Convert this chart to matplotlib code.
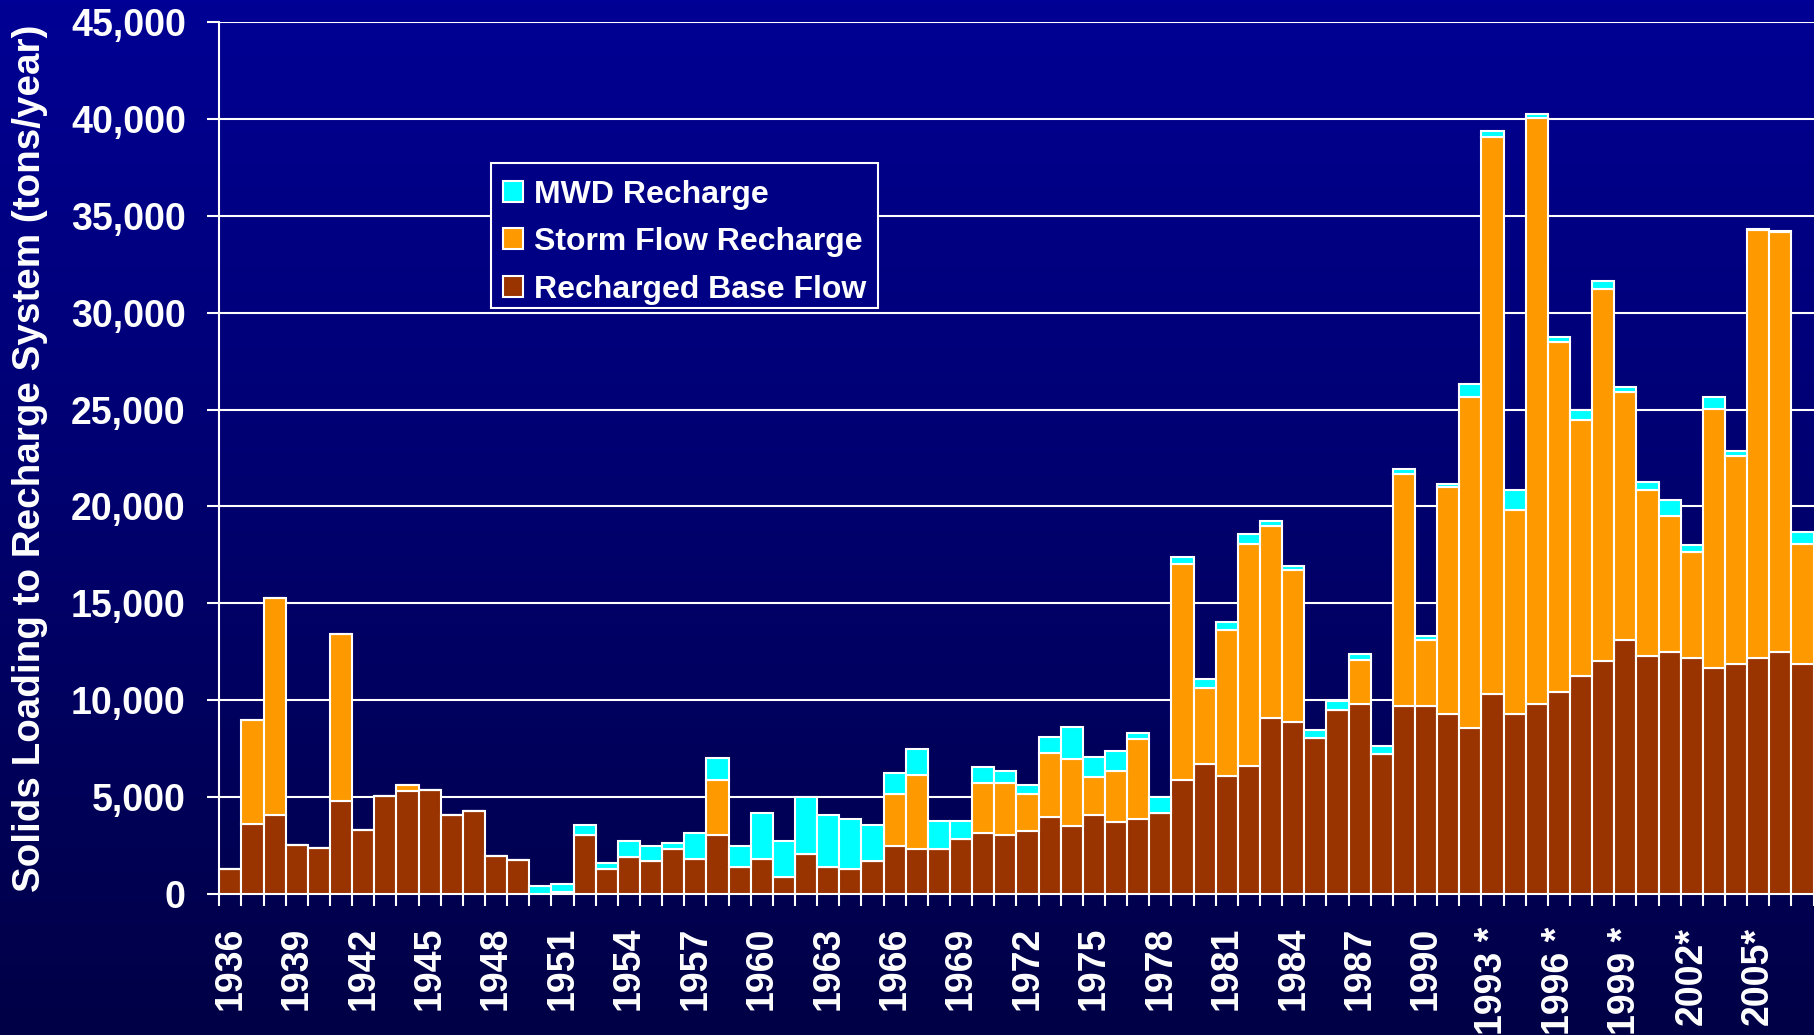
import numpy as np
import matplotlib
matplotlib.use("Agg")
import matplotlib.pyplot as plt
from matplotlib.ticker import FuncFormatter
from matplotlib.patches import Patch, Rectangle

plt.rcParams['font.family'] = ['Liberation Sans', 'DejaVu Sans']

# ---------------- data ----------------
years = list(range(1936, 2008))

base_flow = [1300, 3600, 4100, 2550, 2350, 4800, 3300, 5050, 5330, 5350,
             4100, 4300, 1950, 1750, 0, 120, 3050, 1290, 1890, 1700,
             2300, 1800, 3060, 1410, 1800, 860, 2050, 1410, 1290, 1720,
             2460, 2320, 2320, 2840, 3165, 3060, 3270, 3990, 3490, 4090,
             3700, 3890, 4180, 5870, 6690, 6080, 6600, 9080, 8870, 8030,
             9480, 9810, 7230, 9690, 9690, 9290, 8555, 10340, 9290, 9810,
             10440, 11260, 12000, 13100, 12270, 12480, 12170, 11660, 11870, 12170,
             12470, 11870]

storm_flow = [0, 5400, 11200, 0, 0, 8600, 0, 0, 310, 0,
              0, 0, 0, 0, 0, 0, 0, 0, 0, 0,
              0, 0, 2800, 0, 0, 0, 0, 0, 0, 0,
              2680, 3820, 0, 0, 2580, 2680, 1875, 3300, 3490, 1960,
              2665, 4130, 0, 11170, 3960, 7540, 11470, 9920, 7860, 0,
              0, 2270, 0, 12000, 3440, 11700, 17080, 28710, 10530, 30250,
              18050, 13220, 19220, 12830, 8590, 7040, 5470, 13390, 10720, 22110,
              21670, 6200]

mwd = [0, 0, 0, 0, 0, 0, 0, 0, 0, 0,
       0, 0, 0, 0, 430, 400, 520, 330, 860, 760,
       350, 1360, 1140, 1050, 2390, 1880, 2970, 2680, 2600, 1860,
       1120, 1360, 1460, 950, 825, 620, 480, 825, 1650, 1015,
       1030, 310, 810, 370, 470, 400, 500, 230, 210, 440,
       470, 320, 400, 230, 210, 190, 700, 340, 1050, 200,
       240, 490, 410, 230, 400, 820, 350, 580, 250, 60,
       100, 610]

label_years = list(range(1936, 2006, 3))
tick_labels = ['1936', '1939', '1942', '1945', '1948', '1951', '1954', '1957',
               '1960', '1963', '1966', '1969', '1972', '1975', '1978', '1981',
               '1984', '1987', '1990', '1993 *', '1996 *', '1999 *', '2002*', '2005*']

series_names = ['MWD Recharge', 'Storm Flow Recharge', 'Recharged Base Flow']
ylabel = 'Solids Loading to Recharge System (tons/year)'

c_base = '#993300'
c_storm = '#FF9900'
c_mwd = '#00FFFF'

# ---------------- figure ----------------
W, H = 1814, 1035
fig = plt.figure(figsize=(W / 100, H / 100), dpi=100)

# gradient background
bg = fig.add_axes([0, 0, 1, 1], zorder=-10)
t = np.linspace(0, 1, 256)[:, None, None]
top = np.array([0, 0, 148]) / 255
bot = np.array([0, 0, 70]) / 255
img = top + (bot - top) * t
bg.imshow(img, aspect='auto', extent=[0, 1, 0, 1])
bg.axis('off')

ax_l, ax_r, ax_t, ax_b = 219.3, 1813.5, 22, 894
ax = fig.add_axes([ax_l / W, 1 - ax_b / H, (ax_r - ax_l) / W, (ax_b - ax_t) / H])
ax.patch.set_alpha(0)

x = np.arange(len(years))
b = np.array(base_flow, float)
s = np.array(storm_flow, float)
m = np.array(mwd, float)

kw = dict(width=1.0, edgecolor='white', linewidth=1.5, zorder=3)
ax.bar(x, b, color=c_base, **kw)
ax.bar(x, s, bottom=b, color=c_storm, **kw)
ax.bar(x, m, bottom=b + s, color=c_mwd, **kw)

ax.set_xlim(-0.5, len(years) - 0.5)
ax.set_ylim(0, 45000)

ax.set_yticks(np.arange(0, 45001, 5000))
ax.yaxis.set_major_formatter(FuncFormatter(lambda v, p: f'{v:,.0f}'))
ax.yaxis.grid(True, color='white', linewidth=1.5, zorder=0)
ax.set_axisbelow(True)

pos = [years.index(y) for y in label_years]
ax.set_xticks(pos)
ax.set_xticklabels(tick_labels, rotation=90, va='top', ha='center')
ax.set_xticks(np.arange(-0.5, len(years), 1.0), minor=True)

ax.tick_params(axis='x', which='major', length=0, pad=23.5, labelsize=27,
               labelcolor='white')
ax.tick_params(axis='x', which='minor', length=8.6, width=1.5, color='white',
               direction='out')
ax.tick_params(axis='y', which='major', length=8.6, width=1.5, color='white',
               direction='out', pad=15.5, labelsize=27, labelcolor='white')
for lab in ax.get_xticklabels() + ax.get_yticklabels():
    lab.set_fontweight('bold')

for sp in ['top', 'right']:
    ax.spines[sp].set_visible(False)
for sp in ['left', 'bottom']:
    ax.spines[sp].set_color('white')
    ax.spines[sp].set_linewidth(1.5)

fig.text(12 / W, 1 - 458 / H, ylabel, rotation=90, ha='left', va='center',
         fontsize=27.8, fontweight='bold', color='white')

# legend box (drawn separately so rows can sit exactly as in the reference)
box = Rectangle((491 / W, 1 - 308 / H), (878 - 491) / W, (308 - 163) / H,
                transform=fig.transFigure, facecolor=(0, 0, 0.52),
                edgecolor='white', linewidth=1.5, zorder=4)
fig.add_artist(box)

handles = [Patch(facecolor=c_mwd, edgecolor='white', linewidth=1.5),
           Patch(facecolor=c_storm, edgecolor='white', linewidth=1.5),
           Patch(facecolor=c_base, edgecolor='white', linewidth=1.5)]
leg = fig.legend(handles, series_names, loc='upper left',
                 bbox_to_anchor=(502.7 / W, 1 - 179.6 / H),
                 bbox_transform=fig.transFigure, borderaxespad=0,
                 prop={'size': 23, 'weight': 'bold'}, labelcolor='white',
                 frameon=False,
                 handlelength=0.63, handleheight=0.63, handletextpad=0.35,
                 borderpad=0, labelspacing=0.55)
leg.set_zorder(6)

fig.savefig('out.png', dpi=100)
